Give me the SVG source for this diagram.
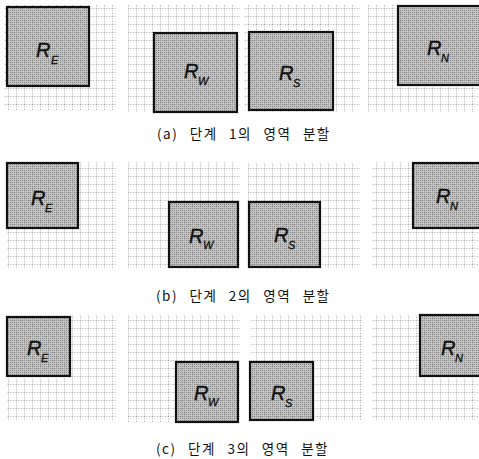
<svg xmlns="http://www.w3.org/2000/svg" width="479" height="459" viewBox="0 0 479 459">
<defs>
<pattern id="grid" patternUnits="userSpaceOnUse" width="8" height="8">
<path d="M0.5 0V8M0 0.5H8" stroke="#9a9a9a" stroke-width="0.8" stroke-dasharray="1 1.5" fill="none"/>
</pattern>
<pattern id="half" patternUnits="userSpaceOnUse" width="2" height="2">
<rect width="2" height="2" fill="#c4c4c4"/>
<rect width="1" height="1" fill="#888"/>
</pattern>
</defs>
<style>
.bg{fill:url(#grid);}
.sq{fill:url(#half);stroke:#111;stroke-width:2.2;}
.sqg{fill:url(#grid);}
.r{font-family:"Liberation Sans","DejaVu Sans",sans-serif;font-style:italic;font-size:20px;fill:#111;stroke:#111;stroke-width:0.4;}
.s{font-family:"Liberation Sans","DejaVu Sans",sans-serif;font-style:italic;font-size:11px;fill:#111;stroke:#111;stroke-width:0.3;}
.cap{font-family:"Noto Sans CJK KR","Liberation Sans",sans-serif;font-size:13.5px;fill:#111;letter-spacing:1.5px;word-spacing:7px;}
</style>
<rect width="479" height="459" fill="#fff"/>
<g id="backgrounds">
<rect class="bg" x="5" y="5" width="112" height="105"/>
<rect class="bg" x="128" y="5" width="112" height="107"/>
<rect class="bg" x="245" y="5" width="115" height="107"/>
<rect class="bg" x="368" y="5" width="111" height="107"/>
<rect class="bg" x="7" y="162" width="110" height="106"/>
<rect class="bg" x="128" y="162" width="112" height="106"/>
<rect class="bg" x="248" y="163" width="112" height="105"/>
<rect class="bg" x="372" y="162" width="107" height="106"/>
<rect class="bg" x="7" y="315" width="110" height="105"/>
<rect class="bg" x="128" y="315" width="112" height="107"/>
<rect class="bg" x="250" y="315" width="112" height="105"/>
<rect class="bg" x="373" y="315" width="106" height="105"/>
</g>
<g id="connectors"/>
<g id="a-RE"><rect class="sq" x="7" y="7" width="82" height="79"/><rect class="sqg" x="8" y="8" width="80" height="77"/><text class="r" x="36" y="57">R</text><text class="s" x="51" y="64">E</text></g>
<g id="a-RW"><rect class="sq" x="154" y="33" width="83" height="79"/><rect class="sqg" x="155" y="34" width="81" height="77"/><text class="r" x="184" y="78">R</text><text class="s" x="198" y="85">W</text></g>
<g id="a-RS"><rect class="sq" x="249" y="32" width="84" height="78"/><rect class="sqg" x="250" y="33" width="82" height="76"/><text class="r" x="279" y="80">R</text><text class="s" x="293" y="87">S</text></g>
<g id="a-RN"><rect class="sq" x="398" y="6" width="90" height="79"/><rect class="sqg" x="399" y="7" width="88" height="77"/><text class="r" x="427" y="55">R</text><text class="s" x="441" y="62">N</text></g>
<text class="cap" x="157" y="139">(a) 단계 1의 영역 분할</text>
<g id="b-RE"><rect class="sq" x="7" y="163" width="71" height="65"/><rect class="sqg" x="8" y="164" width="69" height="63"/><text class="r" x="31" y="205">R</text><text class="s" x="45" y="212">E</text></g>
<g id="b-RW"><rect class="sq" x="169" y="202" width="69" height="65"/><rect class="sqg" x="170" y="203" width="67" height="63"/><text class="r" x="189" y="243">R</text><text class="s" x="203" y="249">W</text></g>
<g id="b-RS"><rect class="sq" x="249" y="202" width="71" height="65"/><rect class="sqg" x="250" y="203" width="69" height="63"/><text class="r" x="274" y="242">R</text><text class="s" x="288" y="249">S</text></g>
<g id="b-RN"><rect class="sq" x="413" y="163" width="75" height="65"/><rect class="sqg" x="414" y="164" width="73" height="63"/><text class="r" x="436" y="203">R</text><text class="s" x="450" y="210">N</text></g>
<text class="cap" x="156" y="301">(b) 단계 2의 영역 분할</text>
<g id="c-RE"><rect class="sq" x="7" y="317" width="63" height="59"/><rect class="sqg" x="8" y="318" width="61" height="57"/><text class="r" x="27" y="355">R</text><text class="s" x="41" y="362">E</text></g>
<g id="c-RW"><rect class="sq" x="176" y="362" width="62" height="60"/><rect class="sqg" x="177" y="363" width="60" height="58"/><text class="r" x="194" y="400">R</text><text class="s" x="208" y="406">W</text></g>
<g id="c-RS"><rect class="sq" x="250" y="362" width="63" height="58"/><rect class="sqg" x="251" y="363" width="61" height="56"/><text class="r" x="271" y="400">R</text><text class="s" x="285" y="407">S</text></g>
<g id="c-RN"><rect class="sq" x="420" y="315" width="68" height="61"/><rect class="sqg" x="421" y="316" width="66" height="59"/><text class="r" x="441" y="355">R</text><text class="s" x="455" y="362">N</text></g>
<text class="cap" x="156" y="454">(c) 단계 3의 영역 분할</text>
</svg>
